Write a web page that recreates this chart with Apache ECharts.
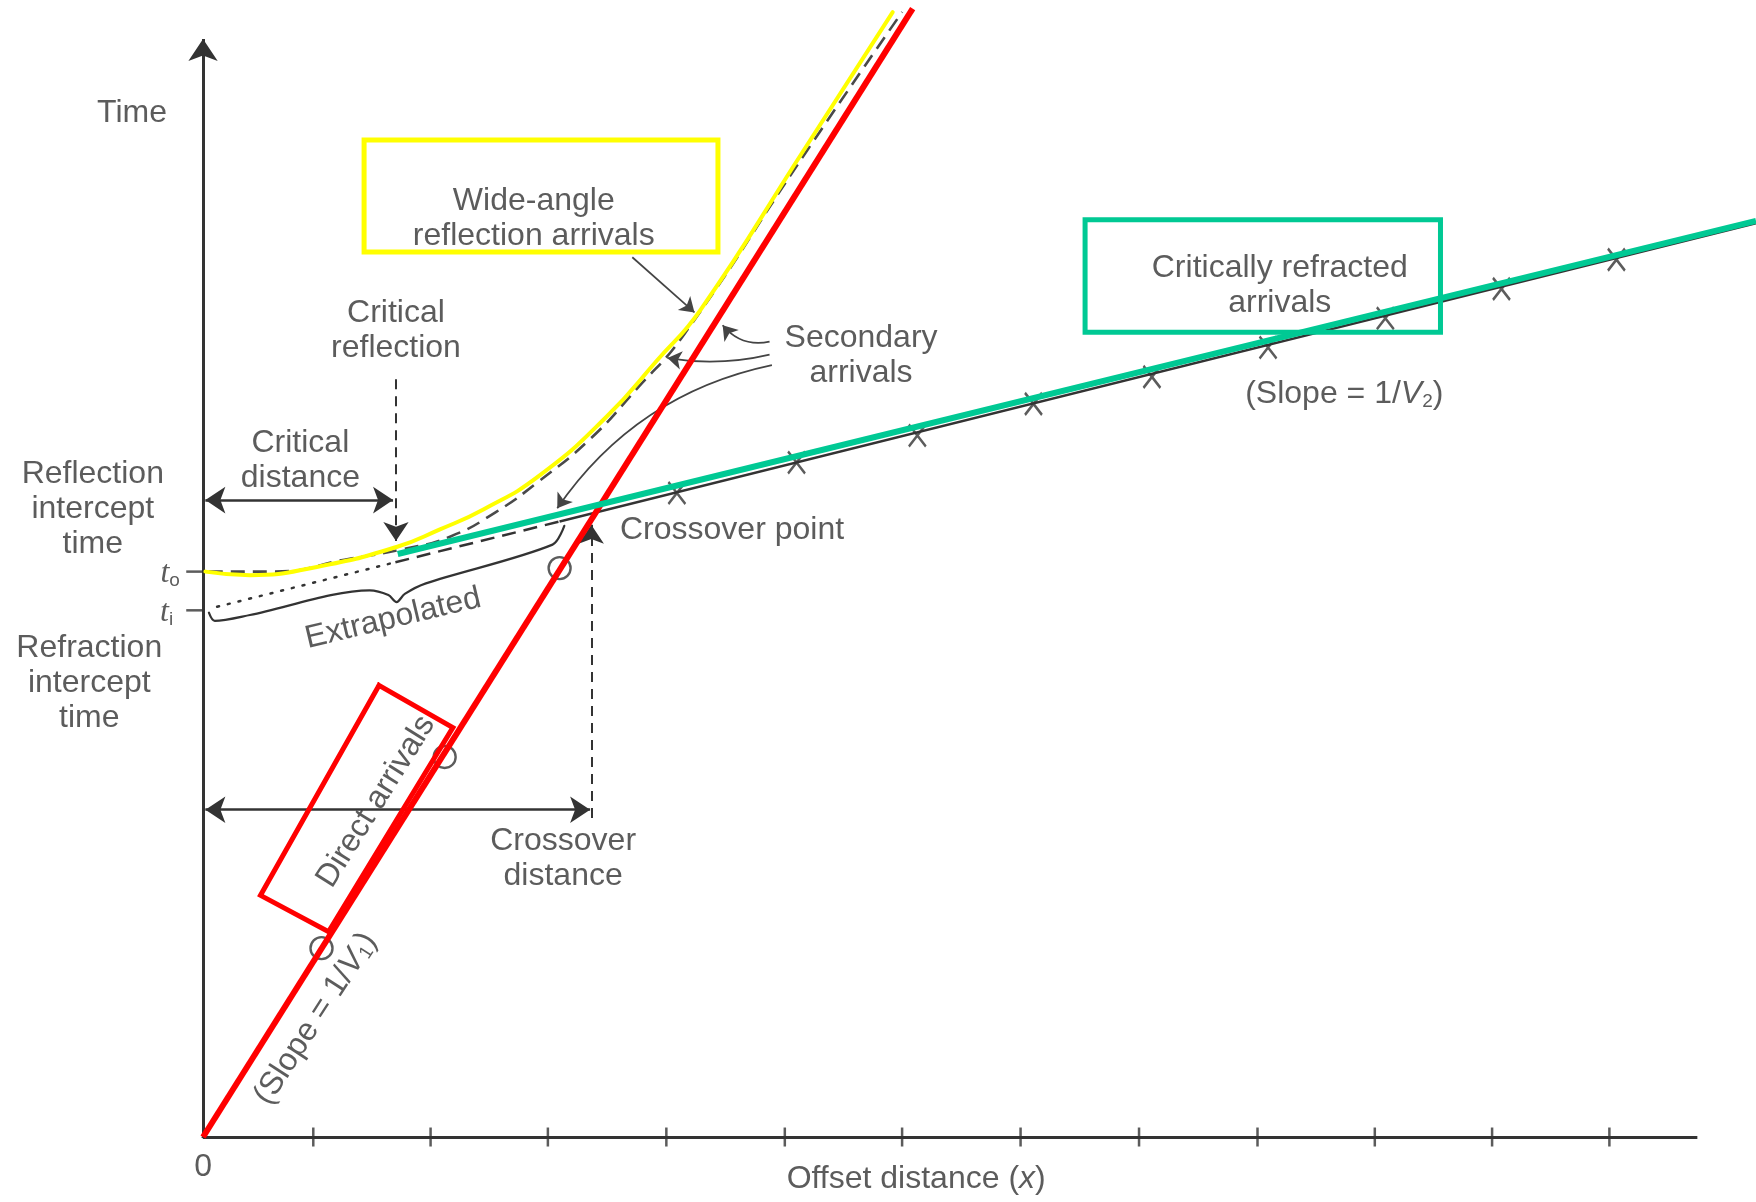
<!DOCTYPE html>
<html>
<head>
<meta charset="utf-8">
<title>Travel-time curves</title>
<script src="https://cdn.jsdelivr.net/npm/echarts@6/dist/echarts.min.js"></script>
<style>
  html, body { margin: 0; padding: 0; background: #fff; }
  #chart { width: 1756px; height: 1202px; }
</style>
</head>
<body>
<div id="chart"></div>
<script>
// diagram units: 1 unit = one tick on the offset axis
const xTicks = [0.94, 1.94, 2.94, 3.95, 4.96, 5.96, 6.97, 7.98, 8.99, 9.99, 10.99, 11.99];
const xAxisEnd = 12.74;
const yAxisEnd = 9.36;
const t0 = 4.82;   // reflection intercept
const ti = 4.49;   // refraction intercept

// direct arrivals (slope 1/V1)
const directX = [0, 6.03];
const directT = [0, 9.58];
const directCircleX = [1.01, 2.06, 3.04];
const directCircleT = [1.61, 3.24, 4.85];

// critically refracted arrivals (slope 1/V2)
const refrDottedX = [0.12, 1.64];
const refrDottedT = [4.52, 4.90];
const refrDashedX = [1.64, 3.05];
const refrDashedT = [4.90, 5.25];
const refrSolidX = [3.05, 13.24];
const refrSolidT = [5.25, 7.79];
const refrMarkX = [4.04, 5.06, 6.09, 7.08, 8.09, 9.08, 10.08, 11.07, 12.05];
const refrMarkT = [5.49, 5.75, 5.98, 6.25, 6.48, 6.73, 6.98, 7.23, 7.48];

// reflection curve (black dashed)
const reflX = [0.05, 0.6, 1.25, 1.7, 2.11, 2.5, 2.85, 3.3, 3.7, 4.1, 5.15, 5.96];
const reflT = [4.82, 4.82, 4.93, 5.01, 5.12, 5.33, 5.58, 5.95, 6.38, 6.84, 8.41, 9.59];

// coloured overlays
const yellowX = [0.02, 0.40, 0.97, 1.65, 2.02, 2.39, 2.87, 3.44, 3.87, 4.24, 5.12, 5.88];
const yellowT = [4.82, 4.79, 4.86, 5.03, 5.18, 5.35, 5.64, 6.14, 6.62, 7.05, 8.41, 9.59];
const redX = [0, 6.05];
const redT = [0, 9.62];
const greenX = [1.66, 13.24];
const greenT = [4.97, 7.81];

// extrapolation brace
const braceX = [0.05, 0.10, 0.4, 1.42, 1.58, 1.65, 1.72, 1.9, 2.98, 3.08];
const braceT = [4.47, 4.40, 4.45, 4.66, 4.62, 4.56, 4.63, 4.72, 5.05, 5.21];

const chart = echarts.init(document.getElementById('chart'));
const zip = (xs, ys) => xs.map((x, i) => [x, ys[i]]);
const INK = '#333333';
const FONT = '"Liberation Sans", Arial, sans-serif';

function line(name, xs, ts, style, extra) {
    return Object.assign({
        name: name,
        type: 'line',
        data: zip(xs, ts),
        showSymbol: false,
        symbol: 'none',
        lineStyle: Object.assign({ cap: 'square', join: 'miter' }, style),
        silent: true,
        z: 2
    }, extra || {});
}

function arrows(name, list, style, symbols, size, z) {
    return {
        name: name,
        type: 'lines',
        coordinateSystem: 'cartesian2d',
        symbol: symbols,
        symbolSize: size,
        lineStyle: Object.assign({ opacity: 1 }, style),
        data: list.map(l => ({ coords: l.coords, lineStyle: { curveness: l.c || 0 } })),
        silent: true,
        z: z || 3
    };
}

function note(x, t, text, rotate) {
    return { value: [x, t], label: { formatter: text, rotate: rotate || 0 } };
}

const option = {
    animation: false,
    backgroundColor: '#fff',
    grid: { left: 0, right: 0, top: 0, bottom: 0 },
    xAxis: {
        type: 'value', min: -1.731, max: 13.24,
        axisLine: { show: false }, axisTick: { show: false },
        axisLabel: { show: false }, splitLine: { show: false }
    },
    yAxis: {
        type: 'value', min: -0.554, max: 9.693,
        axisLine: { show: false }, axisTick: { show: false },
        axisLabel: { show: false }, splitLine: { show: false }
    },
    series: [
        // axes
        arrows('time axis', [{ coords: [[0, 0], [0, yAxisEnd]] }],
            { color: INK, width: 3 }, ['none', 'arrow'], 22, 2),
        arrows('offset axis', [{ coords: [[0, 0], [xAxisEnd, 0]] }],
            { color: INK, width: 3 }, ['none', 'none'], 0, 2),
        {
            name: 'ticks', type: 'scatter', silent: true, z: 2,
            symbol: 'rect', symbolSize: [2.5, 19],
            itemStyle: { color: INK },
            data: xTicks.map(x => [x, 0])
        },
        {
            name: 'intercept ticks', type: 'scatter', silent: true, z: 2,
            symbol: 'rect', symbolSize: [16, 2.5],
            itemStyle: { color: INK },
            data: [[-0.075, t0], [-0.075, ti]]
        },

        // black travel-time curves
        line('direct', directX, directT, { color: INK, width: 2.5 }),
        line('refraction extrapolated', refrDottedX, refrDottedT, { color: INK, width: 2.5, type: [2, 9], cap: 'round' }),
        line('refraction secondary', refrDashedX, refrDashedT, { color: INK, width: 2.5, type: [14, 8], cap: 'butt' }),
        line('refraction', refrSolidX, refrSolidT, { color: INK, width: 2.5 }),
        line('reflection', reflX, reflT, { color: '#4a4a4a', width: 2.6, type: [14, 8], cap: 'butt' },
            { smooth: 0.5 }),
        line('brace', braceX, braceT, { color: INK, width: 2.2, cap: 'round', join: 'round' }, { smooth: 0.3 }),
        {
            name: 'direct picks', type: 'scatter', silent: true, z: 3,
            symbol: 'circle', symbolSize: 22,
            itemStyle: { color: 'rgba(0,0,0,0)', borderColor: INK, borderWidth: 2.4 },
            data: zip(directCircleX, directCircleT)
        },
        {
            name: 'refraction picks', type: 'scatter', silent: true, z: 3,
            symbol: 'path://M0,0L10,13M10,0L0,13', symbolSize: [17, 22],
            itemStyle: { color: 'rgba(0,0,0,0)', borderColor: INK, borderWidth: 2.6 },
            data: zip(refrMarkX, refrMarkT)
        },

        // dimension and leader arrows
        arrows('dimensions', [
            { coords: [[0.02, 5.43], [1.62, 5.43]] },
            { coords: [[0.02, 2.79], [3.30, 2.79]] }
        ], { color: INK, width: 2.6 }, ['arrow', 'arrow'], 20),
        arrows('dashed pointers', [
            { coords: [[1.645, 6.46], [1.645, 5.08]] },
            { coords: [[3.31, 2.72], [3.31, 5.22]] }
        ], { color: INK, width: 2, type: [10, 7] }, ['none', 'arrow'], 19),
        arrows('leaders', [
            { coords: [[3.66, 7.50], [4.19, 7.03]] },
            { coords: [[4.83, 6.78], [4.43, 6.92]], c: 0.3 },
            { coords: [[4.83, 6.67], [3.96, 6.64]], c: 0.1 },
            { coords: [[4.85, 6.58], [3.02, 5.36]], c: -0.2 }
        ], { color: '#444', width: 1.7 }, ['none', 'arrow'], 14),

        // coloured overlays
        line('wide-angle highlight', yellowX, yellowT, { color: '#FFFF00', width: 4, cap: 'round' },
            { smooth: 0.5, z: 5 }),
        line('direct highlight', redX, redT, { color: '#FF0000', width: 6, cap: 'butt' }, { z: 5 }),
        line('refracted highlight', greenX, greenT, { color: '#00C994', width: 6, cap: 'butt' }, { z: 5 }),
        line('yellow box', [1.373, 4.39, 4.39, 1.373, 1.373], [8.50, 8.50, 7.545, 7.545, 8.50],
            { color: '#FFFF00', width: 5 }, { z: 6 }),
        line('green box', [7.52, 10.55, 10.55, 7.52, 7.52], [7.82, 7.82, 6.86, 6.86, 7.82],
            { color: '#00C994', width: 5 }, { z: 6 }),
        line('red box', [1.50, 2.13, 1.07, 0.49, 1.50], [3.85, 3.49, 1.75, 2.06, 3.85],
            { color: '#FF0000', width: 5 }, { z: 6 }),

        // text
        {
            name: 'labels', type: 'scatter', silent: true, z: 7,
            symbolSize: 1,
            itemStyle: { color: 'rgba(0,0,0,0)' },
            label: {
                show: true, position: 'inside',
                color: INK, fontFamily: FONT, fontSize: 32, lineHeight: 35,
                rich: {
                    it: { fontStyle: 'italic', fontFamily: FONT, fontSize: 32, color: INK },
                    tt: { fontStyle: 'italic', fontFamily: '"Liberation Serif", serif', fontSize: 32, color: INK },
                    sub: { fontSize: 19, fontFamily: FONT, color: INK, padding: [14, 0, 0, 0] }
                }
            },
            data: [
                note(-0.605, 8.73, 'Time'),
                note(2.82, 7.83, 'Wide-angle\nreflection arrivals'),
                note(1.645, 6.87, 'Critical\nreflection'),
                note(0.83, 5.77, 'Critical\ndistance'),
                note(-0.94, 5.35, 'Reflection\nintercept\ntime'),
                note(-0.28, 4.80, '{tt|t}{sub|o}'),
                note(-0.31, 4.47, '{tt|t}{sub|i}'),
                note(-0.97, 3.87, 'Refraction\nintercept\ntime'),
                note(1.62, 4.42, 'Extrapolated', 13.4),
                note(4.51, 5.17, 'Crossover point'),
                note(3.07, 2.37, 'Crossover\ndistance'),
                note(5.61, 6.66, 'Secondary\narrivals'),
                note(9.18, 7.26, 'Critically refracted\narrivals'),
                note(9.73, 6.33, '(Slope = 1/{it|V}{sub|2})'),
                note(1.475, 2.86, 'Direct arrivals', 58),
                note(0.96, 1.01, '(Slope = 1/{it|V}{sub|1})', 57),
                note(0, -0.26, '0'),
                note(6.08, -0.36, 'Offset distance ({it|x})')
            ]
        }
    ]
};

chart.setOption(option);
window.addEventListener('resize', () => chart.resize());
</script>
</body>
</html>
